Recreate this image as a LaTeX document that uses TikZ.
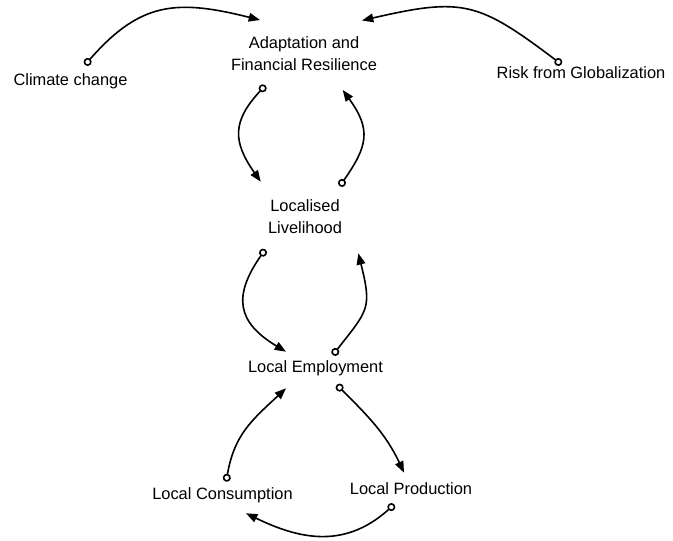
\documentclass[tikz,border=0pt]{standalone}
\usepackage{fontspec}
\setmainfont{Liberation Sans}
\usetikzlibrary{arrows.meta}

\begin{document}
\begin{tikzpicture}[x=0.75pt,y=0.75pt,
    lbl/.style={anchor=base,align=center,inner sep=0pt,
        font=\fontsize{12.3}{16.5}\selectfont},
    link/.style={line width=1.2pt,
        {Circle[open,length=6pt,width=6pt]}-{Triangle[length=8.5pt,width=6.5pt]}}]

    \useasboundingbox (0,0) rectangle (673,541);

    % The variables, set on their (last) baselines
    \foreach \nm/\x/\y/\txt in {
    clim/70.5/455.5/{Climate change},
    adapt/304/470/{Adaptation and\\Financial Resilience},
    risk/581/462/{Risk from Globalization},
    liveli/305/307/{Localised\\Livelihood},
    employ/315.5/168/{Local Employment},
    cons/222.5/41/{Local Consumption},
    prod/411/46/{Local Production}} {
        \node [lbl] (\nm) at (\x,\y) {\txt};
    }

    % Causal links: circle at the cause, arrow at the effect
    \foreach \a/\ax/\ay/\b/\bx/\by/\o/\i/\l in {
    clim/14.5/20.5/adapt/-44/51/49/166/1.2,
    risk/-19.5/14.6/adapt/58/50.5/143/13/1.3,
    adapt/-38.6/-14.4/liveli/-44.3/52.3/227/125/1.3,
    liveli/34.7/47.8/adapt/38.7/-19/55/-54/1.3,
    liveli/-39.7/-15.4/employ/-29.5/21.3/235/149/1.4,
    employ/17.3/17.9/liveli/53.3/-19.3/52/-76/1.4,
    employ/21.3/-11.8/prod/-7/22.3/-45/115/1,
    prod/-16.7/-9.4/cons/23.5/-13.3/222/-26/1.1,
    cons/3.6/18.3/employ/-29.5/-15.3/80/223/1.1} {
        \draw [link] ([shift={(\ax,\ay)}]\a.base) to[out=\o,in=\i,looseness=\l] ([shift={(\bx,\by)}]\b.base);
    }

\end{tikzpicture}
\end{document}
